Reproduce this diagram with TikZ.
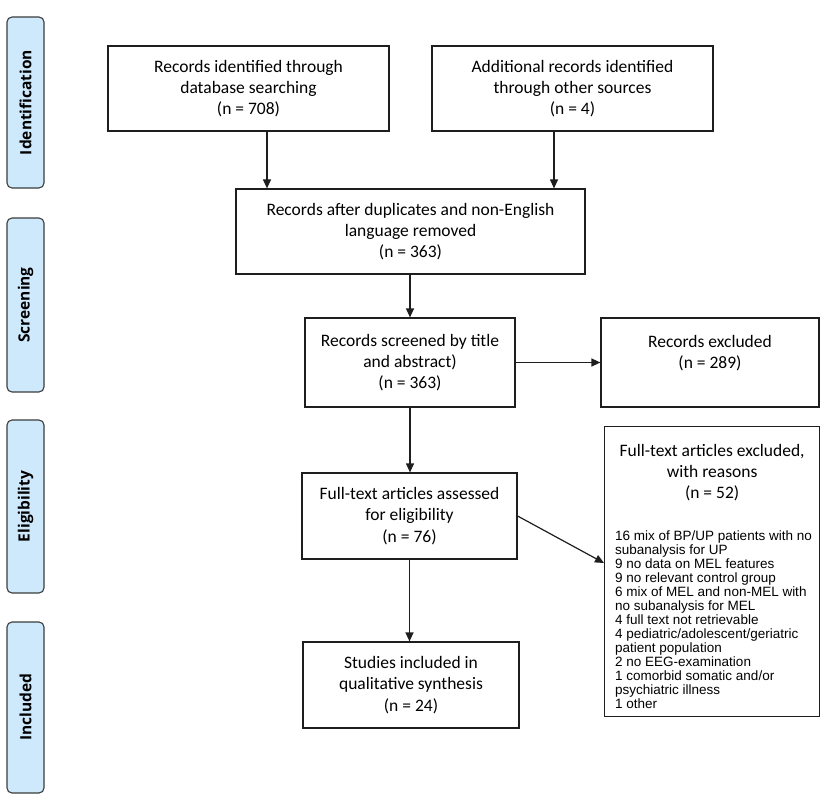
\documentclass[tikz,border=0pt]{standalone}
\usepackage{fontspec}
\setmainfont{Carlito}
\newfontfamily\arialf{Liberation Sans}
\newfontfamily\sidef{Open Sans}
\usetikzlibrary{arrows.meta,calc}
\definecolor{sidefill}{RGB}{206,232,252}
\definecolor{sideline}{RGB}{60,60,60}
\definecolor{boxline}{RGB}{30,30,30}
\begin{document}
\begin{tikzpicture}[x=1pt,y=-1pt,
  flowbox/.style={draw=boxline, line width=1.2pt, inner sep=0pt, align=center,
    font=\fontsize{17.5}{21.3}\selectfont},
  sidebox/.style={draw=sideline, fill=sidefill, line width=1.1pt, rounded corners=5pt,
    inner sep=0pt, rotate=90, minimum height=37pt,
    font=\sidef\bfseries\fontsize{15.5}{18}\selectfont},
  arr/.style={draw=boxline, line width=1.2pt, -{Triangle[length=9pt,width=8pt]}},
  plaintext/.style={inner sep=0pt}]
\useasboundingbox (0,0) rectangle (829,805);
% side labels
\node[sidebox, minimum width=171pt] (sid) at (25.5,102.5) {Identification};
\node[sidebox, minimum width=174pt] (sscr) at (25.5,305) {Screening};
\node[sidebox, minimum width=173pt] (sel) at (25.5,506.5) {Eligibility};
\node[sidebox, minimum width=171pt] (sinc) at (25.5,707.5) {Included};
% flow boxes
\node[flowbox, minimum width=281pt, minimum height=85pt] (db) at (248.5,88.5)
  {Records identified through\\database searching\\(n = 708)};
\node[flowbox, minimum width=281pt, minimum height=85pt] (add) at (572.5,88.5)
  {Additional records identified\\through other sources\\(n = 4)};
\node[flowbox, minimum width=349pt, minimum height=85pt] (dup) at (410.5,231.5)
  {Records after duplicates and non-English\\language removed\\(n = 363)};
\node[flowbox, minimum width=210pt, minimum height=89pt] (scr) at (410,362.5)
  {Records screened by title\\and abstract)\\(n = 363)};
\node[flowbox, minimum width=218pt, minimum height=89pt] (rex) at (710,362.5)
  {Records excluded\\(n = 289)\\~};
\node[flowbox, minimum width=215pt, minimum height=86pt] (fta) at (409.5,516)
  {Full-text articles assessed\\for eligibility\\(n = 76)};
\node[flowbox, minimum width=216pt, minimum height=86pt] (inc) at (411,685)
  {Studies included in\\qualitative synthesis\\(n = 24)};
\node[flowbox, minimum width=215pt, minimum height=290pt, anchor=north west] (ftx) at (604,426) {};
\node[plaintext, align=center, font=\fontsize{17.5}{21.3}\selectfont] (exh) at ($(ftx.north)+(0,46.5)$)
  {Full-text articles excluded,\\with reasons\\(n = 52)};
\node[plaintext, align=left, anchor=north west, font=\arialf\fontsize{13.5}{14}\selectfont] (exl)
  at ($(ftx.north west)+(11,105)$)
  {16 mix of BP/UP patients with no\\subanalysis for UP\\9 no data on MEL features\\9 no relevant control group\\6 mix of MEL and non-MEL with\\no subanalysis for MEL\\4 full text not retrievable\\4 pediatric/adolescent/geriatric\\patient population\\2 no EEG-examination\\1 comorbid somatic and/or\\psychiatric illness\\1 other};
% connectors
\coordinate (a1) at (267,0);
\coordinate (a2) at (554,0);
\coordinate (tipy) at (0,563);
\draw[arr] (db.south -| a1) -- (dup.north -| a1);
\draw[arr] (add.south -| a2) -- (dup.north -| a2);
\draw[arr] (dup.south -| scr.north) -- (scr.north);
\draw[arr] (scr.east) -- (rex.west);
\draw[arr] (scr.south) -- (scr.south |- fta.north);
\draw[arr] (fta.east) -- (ftx.west |- tipy);
\draw[arr] (fta.south) -- (fta.south |- inc.north);
\end{tikzpicture}
\end{document}
